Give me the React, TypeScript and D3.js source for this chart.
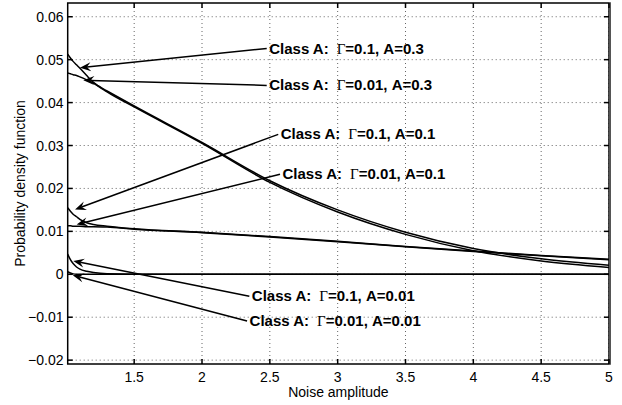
import React, { useEffect, useRef } from 'react';
import * as d3 from 'd3';

// noise amplitude sample points (shared by all curves)
const amplitude = [1.01, 1.03, 1.05, 1.075, 1.1, 1.15, 1.2, 1.3, 1.5, 2, 2.5, 3, 3.5, 4, 4.5, 5];

// pdf values
const pdfG01A03 = [0.0513, 0.0504, 0.0496, 0.0488, 0.048, 0.0463, 0.0447, 0.0425, 0.039, 0.0305, 0.0214, 0.0145, 0.0093, 0.0055, 0.0031, 0.0016];
const pdfG001A03 = [0.0469, 0.0467, 0.0465, 0.0463, 0.046, 0.0453, 0.0445, 0.0427, 0.0392, 0.0307, 0.0218, 0.015, 0.0098, 0.006, 0.0036, 0.0021];
const pdfG01A01 = [0.0155, 0.0147, 0.014, 0.0134, 0.0128, 0.012, 0.0116, 0.0112, 0.0106, 0.0098, 0.0088, 0.0077, 0.0065, 0.0054, 0.0044, 0.0035];
const pdfG001A01 = [0.0113, 0.0113, 0.0112, 0.0112, 0.0112, 0.0111, 0.0111, 0.011, 0.0105, 0.0097, 0.0087, 0.0076, 0.0064, 0.0053, 0.0043, 0.0034];
const pdfG01A001 = [0.0047, 0.0034, 0.0025, 0.0017, 0.0012, 0.0007, 0.0004, 0.0001, 0, 0, 0, 0, 0, 0, 0, 0];
const pdfG001A001 = [0.0006, 0.0003, 0.0001, 0, 0, 0, 0, 0, 0, 0, 0, 0, 0, 0, 0, 0];

const seriesList = [pdfG01A03, pdfG001A03, pdfG01A01, pdfG001A01, pdfG01A001, pdfG001A001];

// tick labels
const xTicks = [1.5, 2, 2.5, 3, 3.5, 4, 4.5, 5];
const yTicks = [-0.02, -0.01, 0, 0.01, 0.02, 0.03, 0.04, 0.05, 0.06];

// annotation labels: gamma, A, arrow tail (data), arrow tip (data)
const annGamma = ['0.1', '0.01', '0.1', '0.01', '0.1', '0.01'];
const annA = ['0.3', '0.3', '0.1', '0.1', '0.01', '0.01'];
const annTail: [number, number][] = [
  [2.477, 0.0526], [2.477, 0.044], [2.562, 0.0326], [2.575, 0.0233], [2.349, -0.0051], [2.332, -0.0109],
];
const annTip: [number, number][] = [
  [1.1, 0.0481], [1.125, 0.0452], [1.064, 0.0151], [1.076, 0.0116], [1.051, 0.0031], [1.047, -0.0002],
];

const W = 622;
const H = 405;
const sans = '"Liberation Sans", Arial, Helvetica, sans-serif';
const serif = '"Liberation Serif", "Times New Roman", serif';

const App: React.FC = () => {
  const svgRef = useRef<SVGSVGElement>(null);

  useEffect(() => {
    if (!svgRef.current) return;
    const svg = d3.select(svgRef.current);
    svg.selectAll('*').remove();

    const left = 67.7, right = 609, top = 3, bottom = 364;
    const x = d3.scaleLinear().domain([1.01, 5]).range([left, right]);
    const y = d3.scaleLinear().domain([-0.0209, 0.0632]).range([bottom, top]);

    svg.append('rect').attr('width', W).attr('height', H).attr('fill', '#fff');

    // grid
    const grid = svg.append('g').attr('stroke', '#666').attr('stroke-width', 1).attr('stroke-dasharray', '1,3');
    xTicks.forEach(t => {
      grid.append('line').attr('x1', x(t)).attr('x2', x(t)).attr('y1', top).attr('y2', bottom);
    });
    yTicks.forEach(t => {
      grid.append('line').attr('x1', left).attr('x2', right).attr('y1', y(t)).attr('y2', y(t));
    });

    // curves
    const line = d3.line<number>()
      .x((_, i) => x(amplitude[i]))
      .y(d => y(d))
      .curve(d3.curveMonotoneX);

    svg.append('g')
      .selectAll('path')
      .data(seriesList)
      .enter()
      .append('path')
      .attr('d', d => line(d))
      .attr('fill', 'none')
      .attr('stroke', '#000')
      .attr('stroke-width', 1.5);

    // box and ticks
    const axes = svg.append('g').attr('stroke', '#000').attr('stroke-width', 1.5);
    axes.append('rect')
      .attr('x', left).attr('y', top)
      .attr('width', right - left).attr('height', bottom - top)
      .attr('fill', 'none');
    axes.append('line')
      .attr('x1', right + 1).attr('x2', right + 1).attr('y1', top - 0.75).attr('y2', bottom + 0.75)
      .attr('stroke', '#555').attr('stroke-width', 2);
    xTicks.forEach(t => {
      axes.append('line').attr('x1', x(t)).attr('x2', x(t)).attr('y1', bottom).attr('y2', bottom - 5);
      axes.append('line').attr('x1', x(t)).attr('x2', x(t)).attr('y1', top).attr('y2', top + 5);
    });
    yTicks.forEach(t => {
      axes.append('line').attr('x1', left).attr('x2', left + 5).attr('y1', y(t)).attr('y2', y(t));
      axes.append('line').attr('x1', right).attr('x2', right - 5).attr('y1', y(t)).attr('y2', y(t));
    });

    // tick labels
    svg.append('g')
      .selectAll('text')
      .data(xTicks)
      .enter()
      .append('text')
      .attr('x', d => x(d))
      .attr('y', 381.5)
      .attr('text-anchor', 'middle')
      .attr('font-family', sans)
      .attr('font-size', 14)
      .text(d => String(d));

    svg.append('g')
      .selectAll('text')
      .data(yTicks)
      .enter()
      .append('text')
      .attr('x', 63.5)
      .attr('y', d => y(d) + 5)
      .attr('text-anchor', 'end')
      .attr('font-family', sans)
      .attr('font-size', 14)
      .text(d => (d === 0 ? '0' : d3.format('.2f')(d).replace('-', '\u2212')));

    // axis titles
    svg.append('text')
      .attr('x', (left + right) / 2)
      .attr('y', 397)
      .attr('text-anchor', 'middle')
      .attr('font-family', sans)
      .attr('font-size', 14)
      .text('Noise amplitude');

    svg.append('text')
      .attr('transform', `translate(25,${(top + bottom) / 2}) rotate(-90)`)
      .attr('text-anchor', 'middle')
      .attr('font-family', sans)
      .attr('font-size', 14)
      .text('Probability density function');

    // annotations
    const ann = svg.append('g');
    annTail.forEach((tail, i) => {
      const tx = x(tail[0]), ty = y(tail[1]);
      const px = x(annTip[i][0]), py = y(annTip[i][1]);
      const ang = Math.atan2(py - ty, px - tx);
      const len = 11, half = 4.5, notch = 7;
      const bx = px - len * Math.cos(ang), by = py - len * Math.sin(ang);
      const nx = px - notch * Math.cos(ang), ny = py - notch * Math.sin(ang);
      const ox = -Math.sin(ang) * half, oy = Math.cos(ang) * half;

      ann.append('line')
        .attr('x1', tx).attr('y1', ty)
        .attr('x2', nx).attr('y2', ny)
        .attr('stroke', '#000')
        .attr('stroke-width', 1.5);
      ann.append('path')
        .attr('d', `M${px},${py}L${bx + ox},${by + oy}L${nx},${ny}L${bx - ox},${by - oy}Z`)
        .attr('fill', '#000');

      const label = ann.append('text')
        .attr('x', tx + 2.5)
        .attr('y', ty + 5)
        .attr('font-family', sans)
        .attr('font-size', 15)
        .attr('font-weight', 'bold');
      label.append('tspan').text('Class A:');
      label.append('tspan')
        .attr('dx', 8)
        .attr('font-family', serif)
        .attr('font-weight', 'normal')
        .text('\u0393');
      label.append('tspan').text(`=${annGamma[i]}, A=${annA[i]}`);
    });
  }, []);

  return (
    <div style={{ position: 'absolute', left: 0, top: 0, width: W, height: H }}>
      <svg ref={svgRef} width={W} height={H} />
    </div>
  );
};

export default App;
